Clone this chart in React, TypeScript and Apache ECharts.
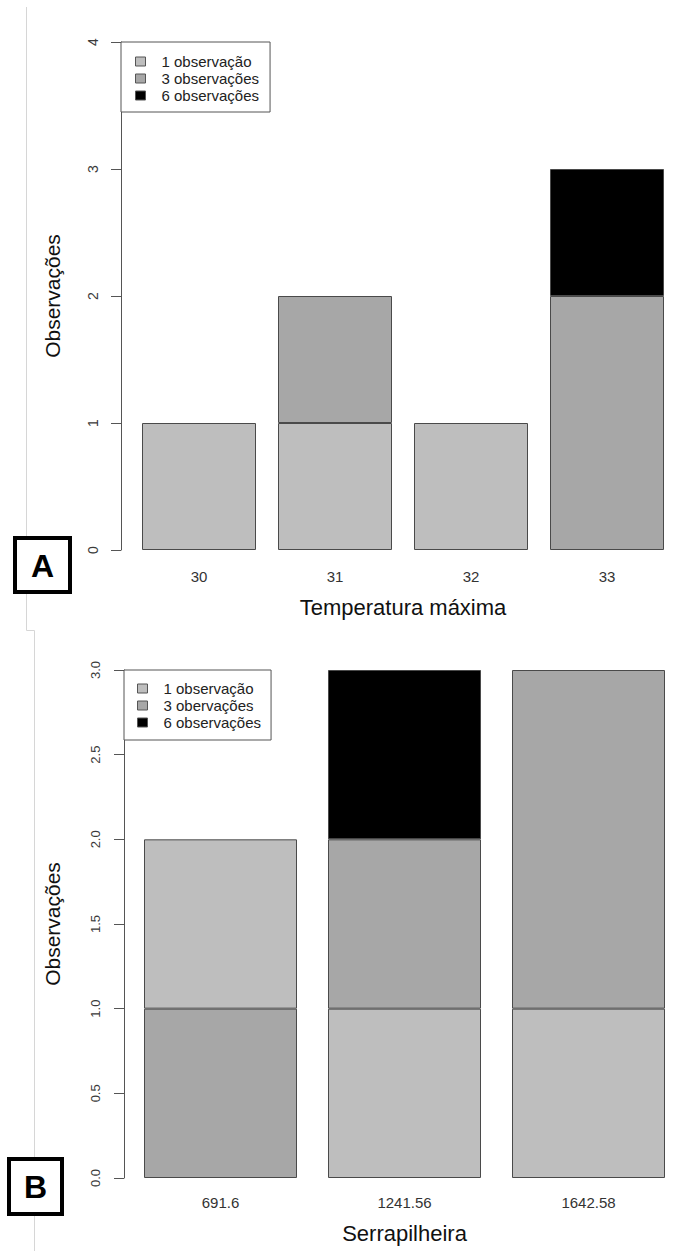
import React, { useEffect, useRef } from "react";
import * as echarts from "echarts";

// Panel A: observations by maximum temperature
const tempCategories = ["30", "31", "32", "33"];
const tempOne = [1, 1, 1, null];
const tempThree = [null, 1, null, 2];
const tempSix = [null, null, null, 1];
const tempLegend = ["1 observação", "3 observações", "6 observações"];

// Panel B: observations by leaf litter
const litterCategories = ["691.6", "1241.56", "1642.58"];
const litterThreeLower = [1, null, null];
const litterOne = [1, 1, 1];
const litterThreeUpper = [null, 1, 2];
const litterSix = [null, 1, null];
const litterLegend = ["1 observação", "3 obervações", "6 observações"];

const yTicksA = { min: 0, max: 4, interval: 1 };
const yTicksB = { min: 0, max: 3, interval: 0.5 };

const FONT = "'Liberation Sans', Arial, Helvetica, sans-serif";
const LIGHT = "#bebebe";
const MID = "#a7a7a7";
const DARK = "#000000";
const EDGE = "#4a4a4a";

export default function App() {
  const ref = useRef<HTMLDivElement>(null);

  useEffect(() => {
    if (!ref.current) return;
    const chart = echarts.init(ref.current, undefined, { renderer: "svg" });

    const bar = (name: string, data: (number | null)[], color: string, axis: number, stack: string) => ({
      name,
      type: "bar",
      stack,
      xAxisIndex: axis,
      yAxisIndex: axis,
      data,
      barWidth: axis === 0 ? 114 : 153,
      itemStyle: { color, borderColor: EDGE, borderWidth: 1 },
      emphasis: { disabled: true },
    });

    const yAxisCommon = (gridIndex: number, offset: number, ticks: any, labelSize: number, margin: number, nameGap: number) => ({
      type: "value",
      gridIndex,
      ...ticks,
      offset,
      splitLine: { show: false },
      axisLine: { show: true, lineStyle: { color: "#555", width: 1 } },
      axisTick: { show: true, length: 10, lineStyle: { color: "#555" } },
      axisLabel: {
        rotate: 90,
        margin,
        fontSize: labelSize,
        fontFamily: FONT,
        color: "#3a3a3a",
        formatter: (v: number) => (gridIndex === 0 ? String(v) : v.toFixed(1)),
      },
      name: "Observações",
      nameLocation: "middle",
      nameGap,
      nameTextStyle: { fontSize: 21, fontFamily: FONT, color: "#111" },
    });

    const xAxisCommon = (gridIndex: number, data: string[], title: string, margin: number, nameGap: number) => ({
      type: "category",
      gridIndex,
      data,
      axisLine: { show: false },
      axisTick: { show: false },
      axisLabel: { margin, fontSize: 15, fontFamily: FONT, color: "#333" },
      name: title,
      nameLocation: "middle",
      nameGap,
      nameTextStyle: { fontSize: 22, fontFamily: FONT, color: "#111" },
    });

    const legendCommon = {
      orient: "vertical",
      backgroundColor: "#fff",
      borderColor: "#555",
      borderWidth: 1,
      borderRadius: 0,
      itemWidth: 10,
      itemHeight: 9,
      itemGap: 2,
      icon: "rect",
      itemStyle: { borderColor: "#555", borderWidth: 1 },
      textStyle: { fontSize: 15, fontFamily: FONT, color: "#222", lineHeight: 14, padding: [0, 0, 0, 11] },
      selectedMode: false,
    };

    chart.setOption({
      animation: false,
      backgroundColor: "#ffffff",
      grid: [
        { left: 131, top: 42, width: 544, height: 508 },
        { left: 128.5, top: 670, width: 552, height: 508 },
      ],
      xAxis: [
        xAxisCommon(0, tempCategories, "Temperatura máxima", 19, 46),
        xAxisCommon(1, litterCategories, "Serrapilheira", 17, 44),
      ],
      yAxis: [
        yAxisCommon(0, 10, yTicksA, 14, 21, 58),
        yAxisCommon(1, 4.5, yTicksB, 13, 22, 61),
      ],
      legend: [
        { ...legendCommon, data: tempLegend, left: 121, top: 42, padding: [12, 11, 9, 14] },
        { ...legendCommon, data: litterLegend, left: 124, top: 670, padding: [11, 10, 10, 13] },
      ],
      series: [
        bar(tempLegend[0], tempOne, LIGHT, 0, "a"),
        bar(tempLegend[1], tempThree, MID, 0, "a"),
        bar(tempLegend[2], tempSix, DARK, 0, "a"),
        bar(litterLegend[1], litterThreeLower, MID, 1, "b"),
        bar(litterLegend[0], litterOne, LIGHT, 1, "b"),
        bar(litterLegend[1], litterThreeUpper, MID, 1, "b"),
        bar(litterLegend[2], litterSix, DARK, 1, "b"),
      ],
      graphic: [
        {
          type: "polyline",
          shape: { points: [[26.5, 7], [26.5, 630.5], [34.5, 630.5], [34.5, 1251]] },
          style: { stroke: "#d6d6d6", lineWidth: 1, fill: null },
          silent: true,
        },
        {
          type: "rect",
          shape: { x: 15, y: 538, width: 55, height: 54 },
          style: { fill: "#fff", stroke: "#000", lineWidth: 4 },
        },
        {
          type: "text",
          x: 42.5,
          y: 566,
          style: {
            text: "A",
            fontSize: 32,
            fontWeight: "bold",
            fontFamily: FONT,
            fill: "#000",
            textAlign: "center",
            textVerticalAlign: "middle",
            align: "center",
            verticalAlign: "middle",
          },
        },
        {
          type: "rect",
          shape: { x: 9, y: 1159, width: 53, height: 55 },
          style: { fill: "#fff", stroke: "#000", lineWidth: 4 },
        },
        {
          type: "text",
          x: 35.5,
          y: 1187,
          style: {
            text: "B",
            fontSize: 32,
            fontWeight: "bold",
            fontFamily: FONT,
            fill: "#000",
            textAlign: "center",
            textVerticalAlign: "middle",
            align: "center",
            verticalAlign: "middle",
          },
        },
      ],
    });

    return () => chart.dispose();
  }, []);

  return (
    <div
      ref={ref}
      style={{ position: "absolute", left: 0, top: 0, width: 696, height: 1251, background: "#fff" }}
    />
  );
}
